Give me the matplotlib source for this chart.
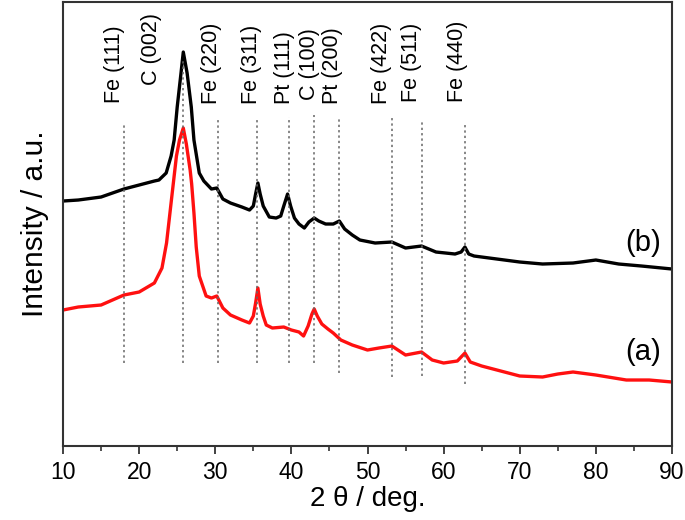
import matplotlib
matplotlib.use('Agg')
import matplotlib.pyplot as plt
from matplotlib.ticker import MultipleLocator

plt.rcParams['font.family'] = ['Liberation Sans', 'DejaVu Sans']

# sample (b), black
two_theta_b = [10, 12, 15, 18, 20, 22, 22.6, 23.55, 24.2, 24.6, 25.0, 25.5, 25.8,
               26.3, 26.85, 27.2, 27.9, 28.5, 29.5, 30.2, 31, 32, 33.5, 34.5,
               35.0, 35.3, 35.6, 35.9, 36.3, 37.1, 38, 38.6, 39.0, 39.5, 39.9,
               40.4, 41.0, 41.7, 42.3, 43, 43.6, 44.5, 45.5, 46.3, 47, 48, 49,
               51, 53.2, 55, 57.1, 59, 61.5, 62.3, 62.8, 63.3, 64, 67, 70, 73,
               77, 80, 83, 86, 90]
intensity_b = [245, 246, 249, 257, 261, 265, 266, 273, 290, 306, 339, 373, 394,
               373, 339, 306, 273, 265, 257, 258, 247, 243, 239, 236,
               240, 252, 263, 252, 240, 229, 228, 230, 240, 252, 240,
               228, 222, 218, 224, 228, 225, 222, 222, 225, 217, 211, 206,
               203, 204, 198, 200, 194, 192, 194, 199, 192, 190, 187, 184, 182,
               183, 186, 182, 180, 177]

# sample (a), red
two_theta_a = [10, 12, 15, 18, 20, 22, 23, 23.6, 24.3, 24.9, 25.3, 25.8, 26.2,
               26.7, 26.9, 27.2, 27.5, 27.9, 28.8, 29.5, 30.2, 31, 32, 33.5,
               34.5, 35.0, 35.3, 35.6, 35.9, 36.3, 36.7, 37.5, 39, 40, 41,
               41.6, 42.2, 42.7, 43.0, 43.4, 44, 44.8, 45.5, 46.5, 48, 50, 51.5,
               53.2, 55, 57.1, 58.5, 60, 61.8, 62.8, 63.5, 65, 67, 70, 73, 75,
               77, 80, 84, 87, 90]
intensity_a = [136, 139, 141, 151, 154, 163, 178, 203, 250, 290, 306, 318, 302,
               276, 262, 233, 199, 170, 150, 148, 150, 138, 131, 126,
               123, 130, 143, 158, 142, 130, 121, 118, 119, 116, 114,
               110, 120, 132, 137, 130, 122, 117, 113, 106, 101, 96, 98,
               100, 91, 94, 86, 83, 85, 93, 84, 80, 76, 70, 69, 72,
               74, 71, 66, 66, 64]

# reflections
peak_pos = [18.0, 25.8, 30.3, 35.5, 39.7, 43.0, 46.3, 53.2, 57.1, 62.85]
peak_names = ['Fe (111)', 'C (002)', 'Fe (220)', 'Fe (311)', 'Pt (111)',
              'C (100)', 'Pt (200)', 'Fe (422)', 'Fe (511)', 'Fe (440)']

# layout of the marker lines and labels
line_top = [321, 386, 328, 328, 329, 331, 329, 328, 324, 323]
line_bottom = [83, 83, 83, 83, 83, 83, 73, 69, 70, 62]
label_x = [16.7, 21.6, 29.5, 34.7, 39.1, 42.4, 45.4, 51.8, 55.8, 61.8]
label_y = [343, 361, 342, 342, 342, 346, 342, 342, 344, 344]


def main():
    fig = plt.figure(figsize=(6.85, 5.2), dpi=100)
    ax = fig.add_axes([0.092, 0.1423, 0.889, 0.8538])

    ax.plot(two_theta_b, intensity_b, color='black', lw=2.4, zorder=2)
    ax.plot(two_theta_a, intensity_a, color='#ff1010', lw=2.4, zorder=2)

    for x, y0, y1 in zip(peak_pos, line_bottom, line_top):
        ax.plot([x, x], [y0, y1], color='#666666', lw=1.1,
                linestyle=(0, (1.5, 2)), zorder=3)

    for name, x, y in zip(peak_names, label_x, label_y):
        ax.text(x, y, name, rotation=90, ha='center', va='bottom',
                fontsize=15.5, color='black')

    ax.text(86.2, 203, '(b)', ha='center', va='center', fontsize=21)
    ax.text(86.2, 94, '(a)', ha='center', va='center', fontsize=21)

    ax.set_xlim(10, 90)
    ax.set_ylim(0, 444)
    ax.xaxis.set_major_locator(MultipleLocator(10))
    ax.xaxis.set_minor_locator(MultipleLocator(5))
    ax.tick_params(axis='x', which='major', direction='out', length=6,
                   width=1.3, labelsize=16.5, pad=5, color='#333333')
    ax.tick_params(axis='x', which='minor', direction='out', length=3.5,
                   width=1.2, color='#333333')
    ax.set_yticks([])
    for sp in ax.spines.values():
        sp.set_linewidth(1.5)
        sp.set_color('#333333')

    ax.set_xlabel('2 θ / deg.', fontsize=20, labelpad=1)
    ax.set_ylabel('Intensity / a.u.', fontsize=21.5, labelpad=10)

    fig.savefig('out.png', dpi=100)


if __name__ == '__main__':
    main()
